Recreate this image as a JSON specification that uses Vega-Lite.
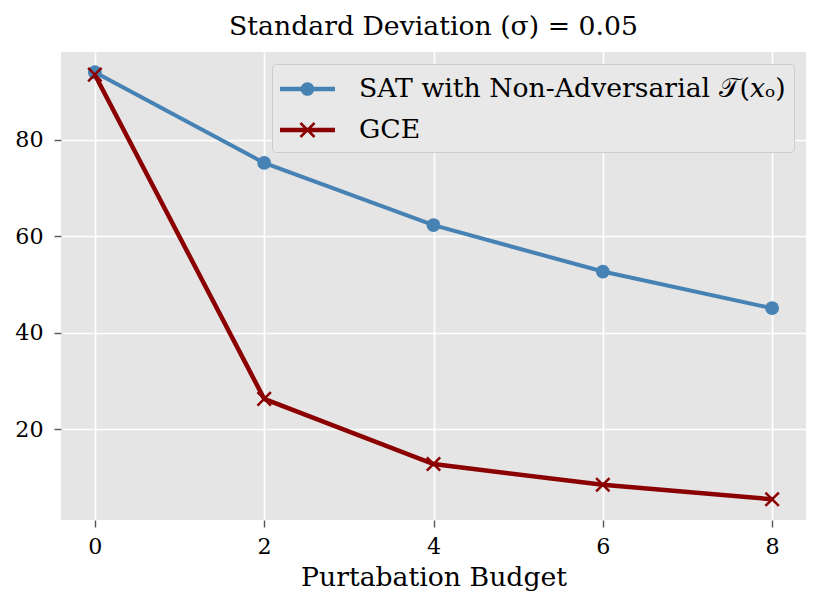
{
  "$schema": "https://vega.github.io/schema/vega-lite/v6.json",
  "autosize": {"type": "none"},
  "width": 745,
  "height": 468,
  "padding": {"left": 61, "top": 52, "right": 25, "bottom": 90},
  "background": "white",
  "title": {
    "text": "Standard Deviation (σ) = 0.05",
    "font": "DejaVu Serif",
    "fontSize": 26.7,
    "fontWeight": "normal",
    "color": "black",
    "anchor": "middle",
    "baseline": "alphabetic",
    "offset": 16,
    "dy": 26
  },
  "data": {
    "values": [
      {"budget": 0, "acc": 94.0, "method": "SAT with Non-Adversarial 𝒯(𝑥ₒ)"},
      {"budget": 2, "acc": 75.2, "method": "SAT with Non-Adversarial 𝒯(𝑥ₒ)"},
      {"budget": 4, "acc": 62.3, "method": "SAT with Non-Adversarial 𝒯(𝑥ₒ)"},
      {"budget": 6, "acc": 52.7, "method": "SAT with Non-Adversarial 𝒯(𝑥ₒ)"},
      {"budget": 8, "acc": 45.1, "method": "SAT with Non-Adversarial 𝒯(𝑥ₒ)"},
      {"budget": 0, "acc": 93.5, "method": "GCE"},
      {"budget": 2, "acc": 26.3, "method": "GCE"},
      {"budget": 4, "acc": 12.8, "method": "GCE"},
      {"budget": 6, "acc": 8.5, "method": "GCE"},
      {"budget": 8, "acc": 5.5, "method": "GCE"}
    ]
  },
  "encoding": {
    "x": {
      "field": "budget",
      "type": "quantitative",
      "title": "Purtabation Budget",
      "scale": {"domain": [-0.4, 8.4], "nice": false, "zero": false},
      "axis": {"values": [0, 2, 4, 6, 8]}
    },
    "y": {
      "field": "acc",
      "type": "quantitative",
      "title": null,
      "scale": {"domain": [1.2, 98.2], "nice": false, "zero": false},
      "axis": {"values": [20, 40, 60, 80]}
    },
    "color": {
      "field": "method",
      "type": "nominal",
      "scale": {
        "domain": ["SAT with Non-Adversarial 𝒯(𝑥ₒ)", "GCE"],
        "range": ["#4682B4", "#8B0000"]
      },
      "legend": {
        "title": null,
        "orient": "top-right",
        "offset": 12,
        "symbolSize": 1156,
        "symbolStrokeWidth": 0,
        "labelOffset": 45,
        "labelLimit": 0,
        "rowPadding": 10,
        "padding": 8,
        "encode": {
          "symbols": {
            "update": {
              "shape": [
                {"test": "datum.value === 'GCE'", "value": "M-1,-0.138L2.235,-0.138L2.235,0.138L-1,0.138Z M0.2575,-0.464L1.0815,0.36L0.9775,0.464L0.1535,-0.36Z M0.2575,0.464L0.1535,0.36L0.9775,-0.464L1.0815,-0.36Z"},
                {"value": "M-1,-0.138L2.235,-0.138L2.235,0.138L-1,0.138Z M1.0175,0A0.4,0.4 0 1 1 0.2175,0A0.4,0.4 0 1 1 1.0175,0Z"}
              ],
              "fill": [
                {"test": "datum.value === 'GCE'", "value": "#8B0000"},
                {"value": "#4682B4"}
              ],
              "fillOpacity": {"value": 1},
              "strokeWidth": {"value": 0}
            }
          }
        }
      }
    }
  },
  "layer": [
    {
      "transform": [{"filter": "datum.method !== 'GCE'"}],
      "mark": {"type": "line", "strokeWidth": 4}
    },
    {
      "transform": [{"filter": "datum.method !== 'GCE'"}],
      "mark": {"type": "point", "shape": "circle", "filled": true, "opacity": 1, "size": 190}
    },
    {
      "transform": [{"filter": "datum.method === 'GCE'"}],
      "mark": {"type": "line", "strokeWidth": 4.5}
    },
    {
      "transform": [{"filter": "datum.method === 'GCE'"}],
      "mark": {"type": "point", "shape": "M-1,-1L1,1M-1,1L1,-1", "filled": false, "opacity": 1, "size": 180, "strokeWidth": 2.5}
    }
  ],
  "config": {
    "font": "DejaVu Serif",
    "view": {"fill": "#E5E5E5", "stroke": null},
    "axis": {
      "domain": false,
      "grid": true,
      "gridColor": "white",
      "gridWidth": 1.6,
      "tickColor": "#555555",
      "tickWidth": 1.4,
      "tickSize": 7,
      "labelFont": "DejaVu Serif",
      "labelFontSize": 22.2,
      "labelColor": "black",
      "titleFont": "DejaVu Serif",
      "titleFontSize": 26.7,
      "titleFontWeight": "normal",
      "titleColor": "black"
    },
    "axisX": {"labelPadding": 8, "titlePadding": 7},
    "axisY": {"labelPadding": 11},
    "legend": {
      "labelFont": "DejaVu Serif",
      "labelFontSize": 26.7,
      "labelColor": "black",
      "fillColor": "#E8E8E8",
      "strokeColor": "#CCCCCC",
      "cornerRadius": 4
    }
  }
}
